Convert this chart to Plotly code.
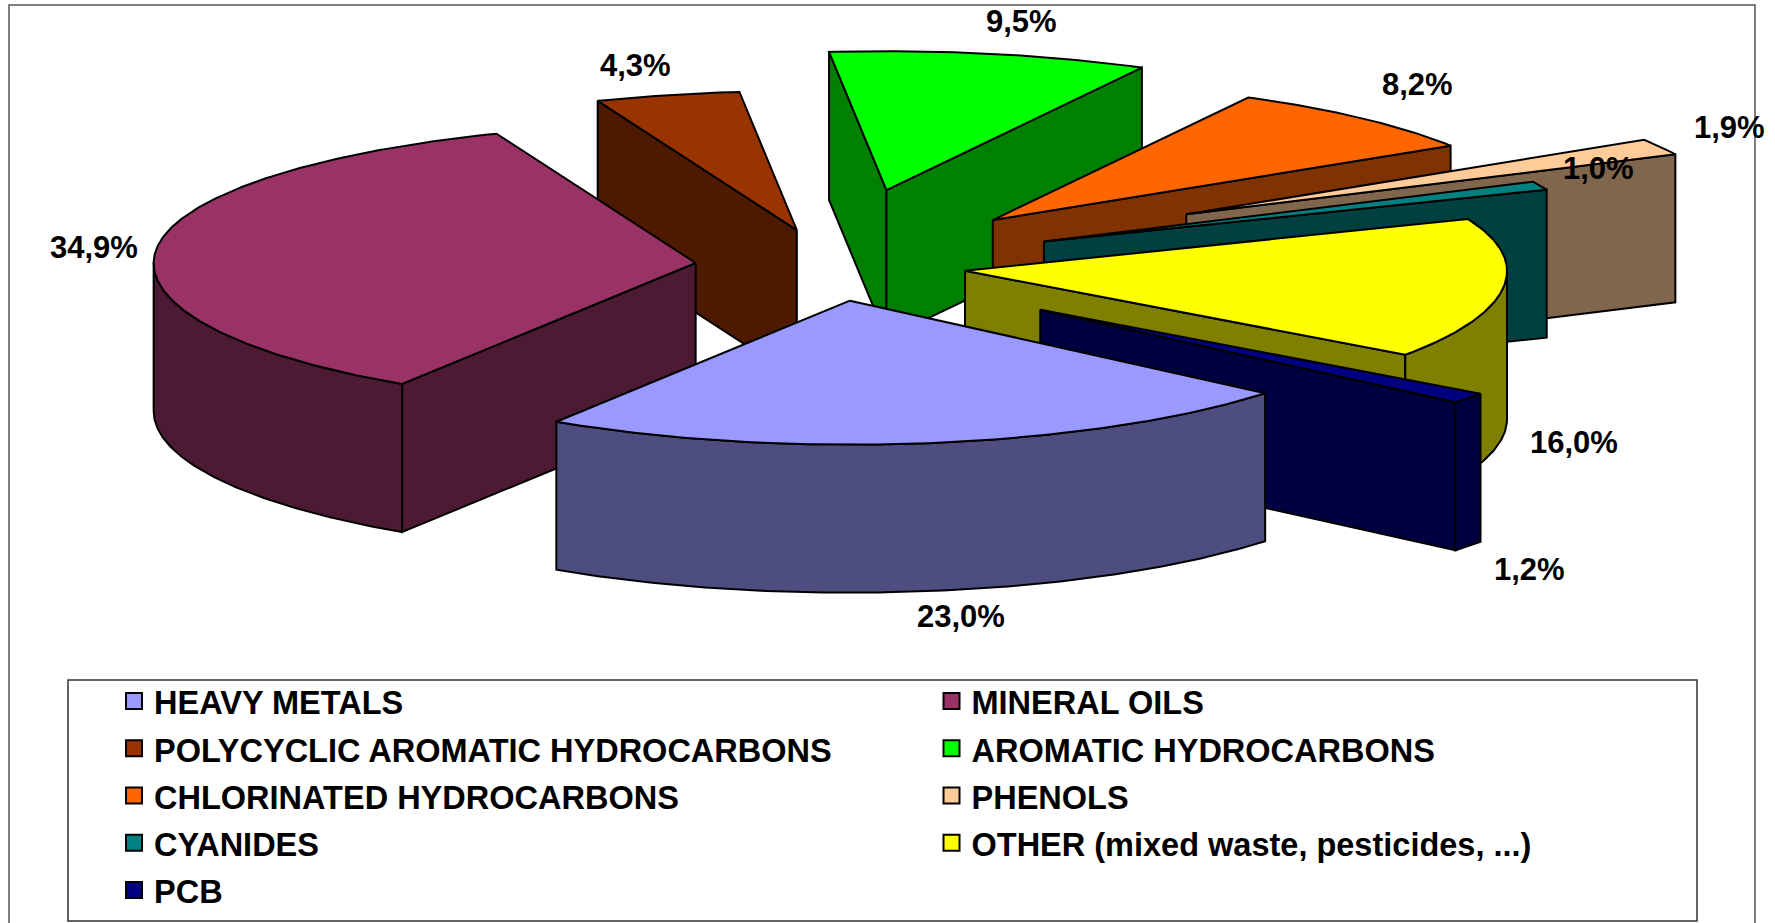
import numpy as np
import plotly.graph_objects as go

categories = ["HEAVY METALS", "MINERAL OILS", "POLYCYCLIC AROMATIC HYDROCARBONS",
              "AROMATIC HYDROCARBONS", "CHLORINATED HYDROCARBONS", "PHENOLS",
              "CYANIDES", "OTHER (mixed waste, pesticides, ...)", "PCB"]
values = [23.0, 34.9, 4.3, 9.5, 8.2, 1.9, 1.0, 16.0, 1.2]
explode = [0.24, 0.25, 0.26, 0.54, 0.44, 0.75, 0.43, 0.25, 0.49]
top_colors = ["#9999FF", "#993366", "#993300", "#00FF00", "#FF6600", "#FFCC99", "#008080", "#FFFF00", "#000080"]
wall_colors = ["#4D4D80", "#4D1A33", "#4D1A00", "#008000", "#803300", "#80664D", "#004040", "#808000", "#000040"]
label_x = [961, 94, 635, 1021, 1417, 1729, 1598, 1574, 1529]
label_y = [616, 247, 65, 21, 84, 127, 168, 442, 569]
paint_order = [3, 2, 4, 5, 6, 7, 1, 8, 0]

# Projection of the tilted, exploded pie onto the canvas
CX, CY, RX, RY_FRONT, RY_BACK, DEPTH, START = 830.5, 266.5, 542, 144, 139, 148, 40.0
INK = dict(color="black", width=2)

fracs = np.array(values) / sum(values)
edges = START + 360 * np.concatenate([[0], np.cumsum(fracs)])


def project(theta, r, ox, oy, dz=0):
    t = np.radians(theta)
    s = np.sin(t)
    return ox + RX * r * np.cos(t), oy + np.where(s > 0, RY_FRONT, RY_BACK) * r * s + dz


def face(x, y, color, name):
    return go.Scatter(x=list(x) + [x[0]], y=list(y) + [y[0]], mode="lines", fill="toself",
                      fillcolor=color, line=INK, showlegend=False, name=name, hoverinfo="name")


fig = go.Figure()
for i in paint_order:
    t0, t1 = edges[i], edges[i + 1]
    mid = np.radians((t0 + t1) / 2)
    ox = CX + RX * explode[i] * np.cos(mid)
    oy = CY + RY_FRONT * explode[i] * np.sin(mid)
    # radial walls facing the viewer
    for t, facing in ((t0, -np.cos(np.radians(t0)) > 0), (t1, np.cos(np.radians(t1)) > 0)):
        if facing:
            px, py = project(t, 1, ox, oy)
            fig.add_trace(face([ox, px, px, ox], [oy, py, py + DEPTH, oy + DEPTH], wall_colors[i], categories[i]))
    # outer wall, front half only
    for lo, hi in ((0, 180), (360, 540)):
        a, b = max(t0, lo), min(t1, hi)
        if b > a:
            th = np.linspace(a, b, max(2, int(b - a) * 2))
            px, py = project(th, 1, ox, oy)
            fig.add_trace(face(list(px) + list(px[::-1]), list(py) + list(py[::-1] + DEPTH),
                               wall_colors[i], categories[i]))
    # top
    th = np.linspace(t0, t1, max(3, int(t1 - t0) * 2))
    px, py = project(th, 1, ox, oy)
    fig.add_trace(face([ox] + list(px), [oy] + list(py), top_colors[i], categories[i]))

# legend entries, in category order
for name, col in zip(categories, top_colors):
    fig.add_trace(go.Scatter(x=[None], y=[None], mode="markers", name=f'<span style="font-size:32.5px">{name}</span>',
                             marker=dict(symbol="square", size=18, color=col, line=dict(color="black", width=2))))

annotations = [dict(x=x, y=y, text=f"<b>{v:.1f}%</b>".replace(".", ","), showarrow=False,
                    font=dict(size=31, color="black"), xanchor="center", yanchor="middle")
               for x, y, v in zip(label_x, label_y, values)]

fig.update_layout(
    width=1775, height=923, margin=dict(l=0, r=0, t=0, b=0),
    paper_bgcolor="white", plot_bgcolor="white",
    font=dict(family="Liberation Sans", color="black"),
    xaxis=dict(range=[0, 1775], visible=False, fixedrange=True),
    yaxis=dict(range=[923, 0], visible=False, fixedrange=True),
    annotations=annotations,
    shapes=[
        dict(type="rect", x0=9, y0=5, x1=1755, y1=960, line=dict(color="#555555", width=1.5), layer="below"),
        dict(type="rect", x0=68, y0=680, x1=1697, y1=921, line=dict(color="#333333", width=1.5), fillcolor="white", layer="below"),
    ],
    legend=dict(orientation="h", x=114 / 1775, y=1 - 672.5 / 923, xanchor="left", yanchor="top",
                entrywidth=772.5, entrywidthmode="pixels", bgcolor="rgba(0,0,0,0)",
                font=dict(size=34, family="Liberation Sans", weight="bold"), traceorder="normal"),
)

fig.write_html("out.html", config=dict(displayModeBar=False),
               post_script="document.body.style.margin='0';document.documentElement.style.overflow='hidden';")
